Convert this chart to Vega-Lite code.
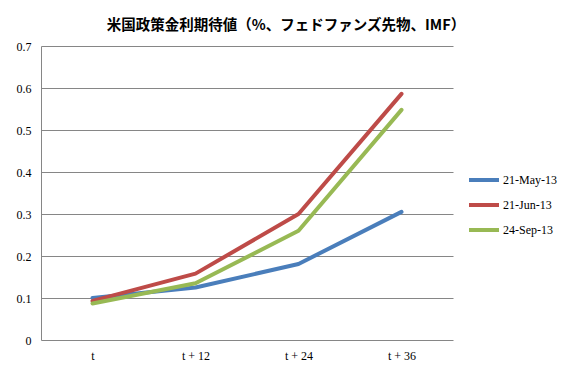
{
  "$schema": "https://vega.github.io/schema/vega-lite/v6.json",
  "width": 412,
  "height": 294,
  "autosize": "none",
  "padding": {"left": 41, "top": 46, "right": 126, "bottom": 36},
  "background": "white",
  "title": {
    "text": "米国政策金利期待値（%、フェドファンズ先物、IMF）",
    "font": "Noto Sans CJK JP",
    "fontSize": 14.5,
    "fontWeight": "bold",
    "color": "#000000",
    "anchor": "middle",
    "dx": 39,
    "offset": 7
  },
  "data": {
    "values": [
      {"period": "t", "series": "21-May-13", "value": 0.100},
      {"period": "t + 12", "series": "21-May-13", "value": 0.125},
      {"period": "t + 24", "series": "21-May-13", "value": 0.181},
      {"period": "t + 36", "series": "21-May-13", "value": 0.305},
      {"period": "t", "series": "21-Jun-13", "value": 0.093},
      {"period": "t + 12", "series": "21-Jun-13", "value": 0.158},
      {"period": "t + 24", "series": "21-Jun-13", "value": 0.300},
      {"period": "t + 36", "series": "21-Jun-13", "value": 0.586},
      {"period": "t", "series": "24-Sep-13", "value": 0.087},
      {"period": "t + 12", "series": "24-Sep-13", "value": 0.135},
      {"period": "t + 24", "series": "24-Sep-13", "value": 0.260},
      {"period": "t + 36", "series": "24-Sep-13", "value": 0.548}
    ]
  },
  "mark": {"type": "line", "strokeWidth": 4, "strokeCap": "round", "strokeJoin": "round"},
  "encoding": {
    "x": {
      "field": "period",
      "type": "ordinal",
      "sort": ["t", "t + 12", "t + 24", "t + 36"],
      "scale": {"type": "point", "padding": 0.5},
      "axis": {
        "title": null,
        "labelAngle": 0,
        "ticks": false,
        "domain": false,
        "grid": false,
        "labelFont": "Liberation Serif",
        "labelFontSize": 12,
        "labelColor": "#000000",
        "labelPadding": 10
      }
    },
    "y": {
      "field": "value",
      "type": "quantitative",
      "scale": {"domain": [0, 0.7], "nice": false},
      "axis": {
        "title": null,
        "values": [0, 0.1, 0.2, 0.3, 0.4, 0.5, 0.6, 0.7],
        "format": "~g",
        "ticks": false,
        "domain": true,
        "domainColor": "#868686",
        "domainWidth": 1,
        "grid": true,
        "gridColor": "#868686",
        "gridWidth": 1,
        "gridOpacity": 1,
        "labelFont": "Liberation Serif",
        "labelFontSize": 12,
        "labelColor": "#000000",
        "labelPadding": 10
      }
    },
    "color": {
      "field": "series",
      "type": "nominal",
      "sort": ["21-May-13", "21-Jun-13", "24-Sep-13"],
      "scale": {"domain": ["21-May-13", "21-Jun-13", "24-Sep-13"], "range": ["#4A7EBB", "#BE4B48", "#98B954"]},
      "legend": {
        "title": null,
        "orient": "none",
        "legendX": 426,
        "legendY": 117,
        "symbolType": "stroke",
        "symbolSize": 900,
        "symbolStrokeWidth": 4,
        "labelFont": "Liberation Serif",
        "labelFontSize": 12,
        "labelColor": "#000000",
        "labelOffset": 2,
        "rowPadding": -14
      }
    }
  },
  "config": {
    "view": {"stroke": null}
  }
}
